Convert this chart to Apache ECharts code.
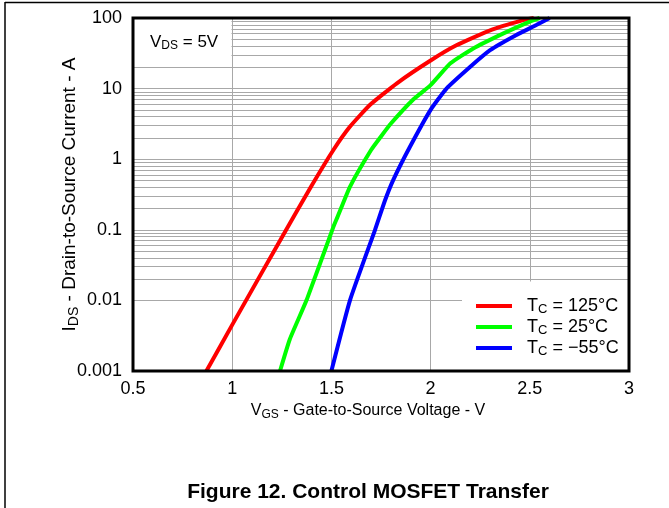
<!DOCTYPE html>
<html>
<head>
<meta charset="utf-8">
<script src="https://cdn.jsdelivr.net/npm/echarts@6/dist/echarts.min.js"></script>
<style>
html,body{margin:0;padding:0;background:#fff;}
#chart{width:669px;height:508px;}
</style>
</head>
<body>
<div id="chart"></div>
<script>
// ---- data ----
var vgsTicks = [0.5, 1, 1.5, 2, 2.5, 3];
var idsTicks = [0.001, 0.01, 0.1, 1, 10, 100];
var seriesNames = ['T_C = 125°C', 'T_C = 25°C', 'T_C = −55°C'];
var seriesColors = ['#ff0000', '#00ff00', '#0000ff'];
var red125 = [[0.87,0.001],[1.0,0.0045],[1.25,0.078],[1.4,0.42],[1.51,1.35],[1.594,2.9],[1.695,5.9],[1.83,11.9],[2.0,25],[2.13,41],[2.30,67],[2.47,94],[2.52,100]];
var green25 = [[1.241,0.001],[1.29,0.0028],[1.375,0.0101],[1.51,0.11],[1.53,0.15],[1.594,0.41],[1.70,1.35],[1.75,2.1],[1.80,3.2],[1.91,6.9],[2.0,11.2],[2.10,22.8],[2.215,37],[2.37,61],[2.50,89],[2.55,100]];
var blue55 = [[1.50,0.001],[1.594,0.0101],[1.72,0.1],[1.77,0.26],[1.812,0.51],[1.896,1.5],[2.0,5.0],[2.08,10.0],[2.20,20.4],[2.30,35],[2.43,57],[2.535,80],[2.60,100]];
var minorMultipliers = [2,3,4,5,6,7,8,9];

var FONT = 'Liberation Sans, Arial, sans-serif';
var minorGrid = [];
for (var d = 0; d < idsTicks.length - 1; d++) {
  for (var m = 0; m < minorMultipliers.length; m++) {
    minorGrid.push({ yAxis: idsTicks[d] * minorMultipliers[m] });
  }
}
function legendRich(name) {
  var rest = name.substring(3);
  return '{t|T}{s|C}{t|' + rest + '}';
}

var chart = echarts.init(document.getElementById('chart'), null, { renderer: 'canvas' });
var gridLeft = 133, gridTop = 18, gridRight = 669 - 629, gridBottom = 508 - 371;

function curve(idx, data) {
  return {
    name: seriesNames[idx], type: 'line', data: data, showSymbol: false,
    smooth: 0.15, z: 4,
    color: seriesColors[idx], lineStyle: { color: seriesColors[idx], width: 4 }
  };
}

var option = {
  backgroundColor: '#ffffff',
  animation: false,
  textStyle: { fontFamily: FONT },
  grid: {
    left: gridLeft, top: gridTop, right: gridRight, bottom: gridBottom,
    show: true, borderColor: '#000', borderWidth: 3, backgroundColor: 'transparent', z: 10
  },
  legend: {
    orient: 'vertical',
    left: 471, top: 292,
    itemWidth: 36, itemHeight: 4, itemGap: 2,
    icon: 'rect',
    data: seriesNames,
    formatter: legendRich,
    textStyle: {
      color: '#000', fontFamily: FONT, padding: [0, 0, 0, 10],
      rich: {
        t: { fontSize: 18, fontFamily: FONT, color: '#000', lineHeight: 20 },
        s: { fontSize: 13, fontFamily: FONT, color: '#000', lineHeight: 12, verticalAlign: 'bottom' }
      }
    },
    z: 6
  },
  xAxis: {
    type: 'value', min: 0.5, max: 3, interval: 0.5,
    name: '{t|V}{s|GS}{t| - Gate-to-Source Voltage - V}',
    nameLocation: 'middle', nameGap: 30, nameMoveOverlap: false,
    nameTextStyle: {
      padding: [0, 26, 0, 0],
      rich: {
        t: { fontSize: 16, fontFamily: FONT, color: '#000', lineHeight: 20 },
        s: { fontSize: 12, fontFamily: FONT, color: '#000', lineHeight: 12, verticalAlign: 'bottom' }
      }
    },
    axisLine: { show: false },
    axisTick: { show: false },
    axisLabel: { fontSize: 18, color: '#000', fontFamily: FONT, margin: 9,
      formatter: function (v) { return String(v); } },
    splitLine: { show: true, lineStyle: { color: '#a8a8a8', width: 1 } }
  },
  yAxis: {
    type: 'log', logBase: 10, min: 0.001, max: 100,
    name: '{t|I}{s|DS}{t| - Drain-to-Source Current - A}',
    nameLocation: 'middle', nameGap: 52, nameRotate: 90, nameMoveOverlap: false,
    nameTextStyle: {
      rich: {
        t: { fontSize: 19, fontFamily: FONT, color: '#000', lineHeight: 22 },
        s: { fontSize: 14, fontFamily: FONT, color: '#000', lineHeight: 13, verticalAlign: 'bottom' }
      }
    },
    axisLine: { show: false },
    axisTick: { show: false },
    axisLabel: { fontSize: 18, color: '#000', fontFamily: FONT, margin: 11,
      formatter: function (v) {
        for (var i = 0; i < idsTicks.length; i++) {
          if (Math.abs(Math.log10(v) - Math.log10(idsTicks[i])) < 1e-6) return String(idsTicks[i]);
        }
        return '';
      } },
    splitLine: { show: true, lineStyle: { color: '#a8a8a8', width: 1 } }
  },
  graphic: [
    { type: 'line', shape: { x1: 5, y1: 2.5, x2: 669, y2: 2.5 }, style: { stroke: '#000', lineWidth: 1.5 }, z: 20, silent: true },
    { type: 'line', shape: { x1: 5, y1: 2, x2: 5, y2: 508 }, style: { stroke: '#000', lineWidth: 1.5 }, z: 20, silent: true },
    { type: 'rect', shape: { x: 134, y: 19, width: 97.5, height: 41 }, style: { fill: '#fff' }, z: 3, silent: true },
    { type: 'rect', shape: { x: 462, y: 281.5, width: 166, height: 89 }, style: { fill: '#fff' }, z: 3, silent: true },
    { type: 'text', x: 150, y: 42, z: 5, silent: true,
      style: {
        text: '{t|V}{s|DS}{t| = 5V}', verticalAlign: 'middle', textAlign: 'left',
        rich: {
          t: { fontSize: 17, fontFamily: FONT, fill: '#000', lineHeight: 20 },
          s: { fontSize: 12, fontFamily: FONT, fill: '#000', lineHeight: 12, verticalAlign: 'bottom' }
        }
      } },
    { type: 'text', x: 368, y: 492, z: 5, silent: true,
      style: { text: 'Figure 12. Control MOSFET Transfer', fontSize: 21, fontWeight: 'bold', fontFamily: FONT,
        fill: '#000', textAlign: 'center', verticalAlign: 'middle' } }
  ],
  series: [
    { name: 'minor-grid', type: 'line', data: [], z: 1, silent: true,
      markLine: { silent: true, z: 1, symbol: ['none', 'none'], label: { show: false },
        lineStyle: { color: '#a8a8a8', width: 1, type: 'solid' }, data: minorGrid, animation: false } },
    curve(0, red125),
    curve(1, green25),
    curve(2, blue55)
  ]
};
chart.setOption(option);
</script>
</body>
</html>
